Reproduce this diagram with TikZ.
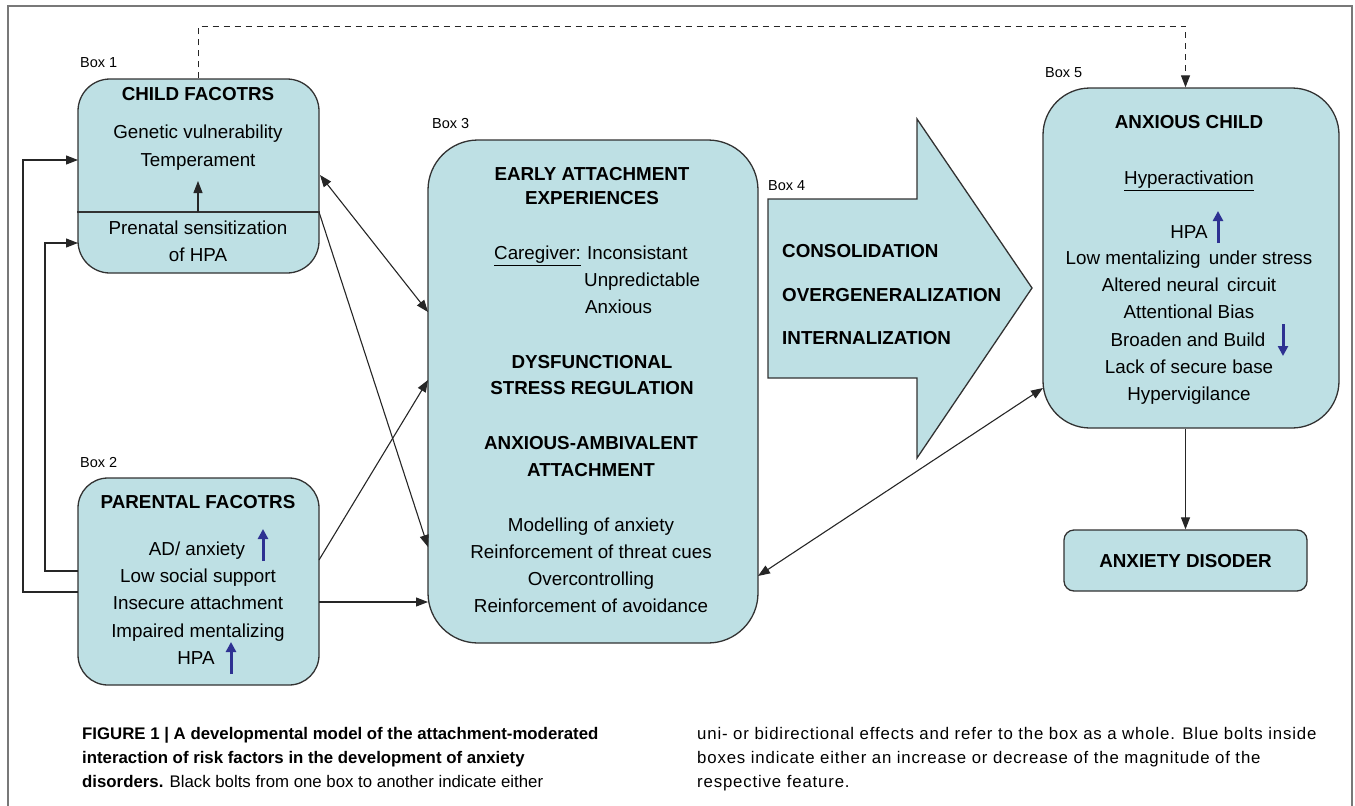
\documentclass[tikz,border=0pt]{standalone}
\usepackage{fontspec}
\setmainfont{Liberation Sans}
\usepackage{xcolor}
\usepackage{tikz}
\usetikzlibrary{arrows.meta}
\definecolor{boxfill}{RGB}{190,224,228}
\definecolor{boxline}{RGB}{50,50,50}
\definecolor{boltblue}{RGB}{46,49,146}
\definecolor{framegray}{RGB}{120,120,120}

\tikzset{
  modelbox/.style={draw=boxline, fill=boxfill, line width=1.3pt, inner sep=0pt},
  txt/.style={inner sep=0pt, text height=13.5pt, text depth=0pt, font=\fontsize{18.8}{22}\selectfont},
  boxlabel/.style={inner sep=0pt, anchor=west, text height=10.5pt, text depth=0pt, font=\fontsize{14.5}{17}\selectfont},
  captxt/.style={inner sep=0pt, anchor=west, text height=12pt, text depth=0pt, font=\fontsize{16.8}{20}\selectfont},
  widecap/.style={captxt, font=\fontsize{16.8}{20}\selectfont\addfontfeature{LetterSpace=5}},
  conn/.style={draw=black!85, line width=1.1pt, -{Triangle[length=12pt,width=9pt]}},
  biconn/.style={conn, {Triangle[length=12pt,width=9pt]}-{Triangle[length=12pt,width=9pt]}},
  bolt/.style={draw=boltblue, line width=3pt, -{Triangle[length=10pt,width=10pt]}}
}

\begin{document}
\begin{tikzpicture}[x=1pt,y=-1pt]
\useasboundingbox (0,0) rectangle (1355,806);
% Outer frame
\draw[framegray, line width=1.6pt] (8,806) -- (8,6) -- (1352,6) -- (1352,806);

% Box 1
\node[boxlabel] (lab1) at (80,62) {Box 1};
\node[modelbox, minimum width=241pt, minimum height=194pt, rounded corners=32pt] (box1) at (198.5,176) {};
\node[txt] (childhead) at (198,94) {\textbf{CHILD FACOTRS}};
\node[txt] (genetic) at (198,132) {Genetic vulnerability};
\node[txt] (temper) at (198,160) {Temperament};
\node[txt] (prenatal) at (198,228) {Prenatal sensitization};
\node[txt] (ofhpa) at (198,255) {of HPA};
\coordinate (div1) at (198,212);
\coordinate (div1tip) at (198,181);
\draw[boxline, line width=1.3pt] (div1 -| box1.west) -- (div1 -| box1.east);
\draw[conn] (div1) -- (div1tip);

% Box 2
\node[boxlabel] (lab2) at (80,462) {Box 2};
\node[modelbox, minimum width=241pt, minimum height=207pt, rounded corners=30pt] (box2) at (198.5,581.5) {};
\node[txt] (parhead) at (198,502) {\textbf{PARENTAL FACOTRS}};
\node[txt] (adanx) at (197,549) {AD/ anxiety};
\node[txt] (lowsoc) at (198,576) {Low social support};
\node[txt] (insec) at (198,603) {Insecure attachment};
\node[txt] (impair) at (198,631) {Impaired mentalizing};
\node[txt] (parhpa) at (196,658) {HPA};
\draw[bolt] (263,561) -- (263,529);
\draw[bolt] (231,674) -- (231,642);

% Box 3
\node[boxlabel] (lab3) at (432,123) {Box 3};
\node[modelbox, minimum width=330pt, minimum height=503pt, rounded corners=50pt] (box3) at (593,391.5) {};
\node[txt] (early1) at (592,174) {\textbf{EARLY ATTACHMENT}};
\node[txt] (early2) at (592,198) {\textbf{EXPERIENCES}};
\node[txt, anchor=west] (caregiver) at (494,253) {\underline{Caregiver:}};
\node[txt, anchor=west] (incons) at (587,253) {Inconsistant};
\node[txt, anchor=west] (unpred) at (584,280) {Unpredictable};
\node[txt, anchor=west] (anxious) at (585,307) {Anxious};
\node[txt] (dysf1) at (592,362) {\textbf{DYSFUNCTIONAL}};
\node[txt] (dysf2) at (592,388) {\textbf{STRESS REGULATION}};
\node[txt] (ambi1) at (591,443) {\textbf{ANXIOUS-AMBIVALENT}};
\node[txt] (ambi2) at (591,470) {\textbf{ATTACHMENT}};
\node[txt] (model) at (591,525) {Modelling of anxiety};
\node[txt] (threat) at (591,552) {Reinforcement of threat cues};
\node[txt] (overc) at (591,579) {Overcontrolling};
\node[txt] (avoid) at (591,606) {Reinforcement of avoidance};

% Box 4
\node[boxlabel] (lab4) at (768,185) {Box 4};
\draw[boxline, fill=boxfill, line width=1.3pt] (768,199) -- (917,199) -- (917,119) -- (1032,288)
  -- (917,458) -- (917,378) -- (768,378) -- cycle;
\node[txt, anchor=west] (consol) at (782,251) {\textbf{CONSOLIDATION}};
\node[txt, anchor=west] (overg) at (782,295) {\textbf{OVERGENERALIZATION}};
\node[txt, anchor=west] (intern) at (782,338) {\textbf{INTERNALIZATION}};

% Box 5
\node[boxlabel] (lab5) at (1045,72) {Box 5};
\node[modelbox, minimum width=296pt, minimum height=340pt, rounded corners=47pt] (box5) at (1191,258) {};
\node[txt] (anxchild) at (1189,122) {\textbf{ANXIOUS CHILD}};
\node[txt] (hyperact) at (1189,178) {\underline{Hyperactivation}};
\node[txt] (chhpa) at (1189,232) {HPA};
\node[txt] (lowment) at (1189,258) {Low mentalizing\, under stress};
\node[txt] (neural) at (1189,285) {Altered neural\, circuit};
\node[txt] (attbias) at (1189,312) {Attentional Bias};
\node[txt] (broaden) at (1188,340) {Broaden and Build};
\node[txt] (secure) at (1189,367) {Lack of secure base};
\node[txt] (vigil) at (1189,394) {Hypervigilance};
\draw[bolt] (1218,243) -- (1218,211);
\draw[bolt] (1283,324) -- (1283,356);

% Outcome
\node[modelbox, minimum width=243pt, minimum height=61pt, rounded corners=10pt] (dis) at (1185.5,560.5) {};
\node[txt] (distxt) at (1185.5,561) {\textbf{ANXIETY DISODER}};

% Connectors
\coordinate (b1a) at (78,160);
\coordinate (b1b) at (78,243);
\coordinate (b1c) at (320,175);
\coordinate (b1d) at (319,212);
\coordinate (b2o) at (78,592);
\coordinate (b2i) at (78,571);
\coordinate (b2c) at (319,560);
\coordinate (b2d) at (319,602);
\coordinate (b3a) at (428,312);
\coordinate (b3b) at (428,380);
\coordinate (b3c) at (428,602);
\coordinate (b3d) at (428,547);
\coordinate (b3e) at (758,576);
\coordinate (b5a) at (1043,388);
\draw[conn] (b2o) -- ++(-55,0) |- (b1a);
\draw[conn] (b2i) -- ++(-33,0) |- (b1b);
\draw[biconn] (b1c) -- (b3a);
\draw[conn] (b1d) -- (b3d);
\draw[conn] (b2c) -- (b3b);
\draw[conn] (b2d) -- (b3c);
\draw[biconn] (b3e) -- (b5a);
\draw[conn] (box5.south -| dis.north) -- (dis.north);
\draw[conn, dashed, dash pattern=on 6pt off 5pt] (box1.north) -- ++(0,-52) -| (box5.north -| dis.north);

% Caption
\node[captxt] (cap1) at (82,733) {\textbf{FIGURE 1 | A developmental model of the attachment-moderated}};
\node[captxt] (cap2) at (82,757) {\textbf{interaction of risk factors in the development of anxiety}};
\node[captxt] (cap3) at (82,781) {\textbf{disorders.} Black bolts from one box to another indicate either};
\node[widecap] (cap4) at (697,733) {uni- or bidirectional effects and refer to the box as a whole. Blue bolts inside};
\node[widecap] (cap5) at (697,757) {boxes indicate either an increase or decrease of the magnitude of the};
\node[widecap] (cap6) at (697,781) {respective feature.};
\end{tikzpicture}
\end{document}
